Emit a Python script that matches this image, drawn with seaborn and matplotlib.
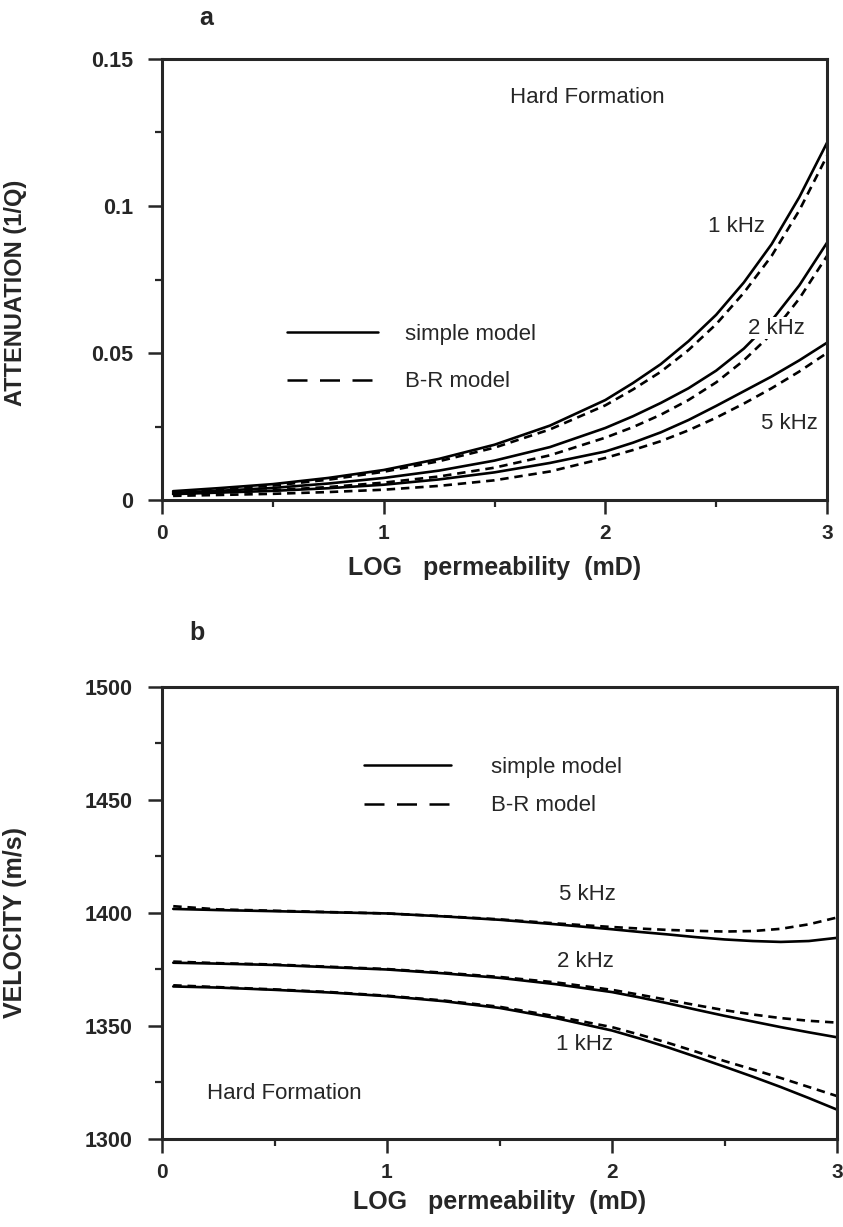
import numpy as np
import pandas as pd
import seaborn as sns
import matplotlib.pyplot as plt
from matplotlib.lines import Line2D
from matplotlib.ticker import MultipleLocator

# log permeability grid
log_perm = [0.05, 0.25, 0.5, 0.75, 1.0, 1.25, 1.5, 1.75, 2.0, 2.125, 2.25, 2.375, 2.5, 2.625, 2.75, 2.875, 3.0]
freqs = ['1 kHz', '2 kHz', '5 kHz']

# panel a: attenuation 1/Q
att_simple = {
    '1 kHz': [0.0030, 0.0040, 0.0054, 0.0075, 0.0102, 0.0140, 0.0188, 0.0253, 0.0340, 0.0398, 0.0462, 0.0540, 0.0630, 0.0740, 0.0870, 0.1030, 0.1215],
    '2 kHz': [0.0024, 0.0031, 0.0041, 0.0056, 0.0075, 0.0100, 0.0134, 0.0180, 0.0245, 0.0285, 0.0330, 0.0380, 0.0440, 0.0515, 0.0610, 0.0730, 0.0875],
    '5 kHz': [0.0020, 0.0025, 0.0031, 0.0040, 0.0052, 0.0070, 0.0094, 0.0126, 0.0165, 0.0195, 0.0230, 0.0272, 0.0320, 0.0370, 0.0420, 0.0475, 0.0535],
}
att_br = {
    '1 kHz': [0.0027, 0.0036, 0.0049, 0.0069, 0.0096, 0.0132, 0.0178, 0.0240, 0.0322, 0.0376, 0.0436, 0.0510, 0.0598, 0.0705, 0.0830, 0.0985, 0.1170],
    '2 kHz': [0.0019, 0.0025, 0.0033, 0.0044, 0.0059, 0.0080, 0.0110, 0.0152, 0.0212, 0.0248, 0.0290, 0.0340, 0.0400, 0.0475, 0.0565, 0.0685, 0.0830],
    '5 kHz': [0.0014, 0.0017, 0.0021, 0.0027, 0.0035, 0.0048, 0.0067, 0.0097, 0.0143, 0.0170, 0.0200, 0.0237, 0.0280, 0.0328, 0.0380, 0.0437, 0.0500],
}
# panel b: velocity m/s
vel_simple = {
    '1 kHz': [1367.5, 1367.0, 1366.0, 1364.8, 1363.2, 1361.0, 1358.0, 1353.5, 1348.0, 1344.4, 1340.5, 1336.3, 1332.0, 1327.6, 1323.0, 1318.1, 1313.0],
    '2 kHz': [1378.0, 1377.6, 1377.0, 1376.0, 1375.0, 1373.3, 1371.3, 1368.5, 1365.0, 1362.6, 1360.0, 1357.2, 1354.5, 1352.0, 1349.5, 1347.2, 1345.0],
    '5 kHz': [1401.8, 1401.3, 1400.8, 1400.3, 1399.8, 1398.5, 1397.0, 1395.0, 1392.8, 1391.6, 1390.5, 1389.3, 1388.3, 1387.6, 1387.2, 1387.6, 1389.0],
}
vel_br = {
    '1 kHz': [1368.0, 1367.2, 1366.2, 1365.0, 1363.4, 1361.3, 1358.5, 1354.3, 1349.5, 1346.1, 1342.5, 1338.6, 1334.5, 1330.8, 1327.0, 1323.0, 1319.0],
    '2 kHz': [1378.5, 1377.8, 1377.2, 1376.2, 1375.2, 1373.6, 1371.7, 1369.3, 1366.0, 1363.8, 1361.5, 1359.2, 1357.0, 1355.1, 1353.5, 1352.3, 1351.5],
    '5 kHz': [1403.0, 1401.6, 1401.0, 1400.4, 1399.8, 1398.6, 1397.2, 1395.4, 1393.8, 1393.1, 1392.5, 1392.1, 1391.8, 1392.0, 1393.0, 1395.0, 1398.0],
}

att_ticks = [0, 0.05, 0.1, 0.15]
att_ticklabels = ['0', '0.05', '0.1', '0.15']
vel_ticks = [1300, 1350, 1400, 1450, 1500]
x_ticks = [0, 1, 2, 3]

# where the curve names sit, (x, y)
att_freq_labels = {'1 kHz': (2.59, 0.093), '2 kHz': (2.77, 0.0585), '5 kHz': (2.83, 0.026)}
vel_freq_labels = {'5 kHz': (1.89, 1408), '2 kHz': (1.88, 1378.5), '1 kHz': (1.88, 1342)}


def long_frame(simple, br):
    rows = []
    for model, d in [('simple', simple), ('B-R', br)]:
        for f in freqs:
            for x, v in zip(log_perm, d[f]):
                rows.append({'x': x, 'value': v, 'freq': f, 'model': model})
    return pd.DataFrame(rows)


sns.set_theme(style='ticks')
plt.rcParams['font.family'] = ['Liberation Sans', 'DejaVu Sans']
plt.rcParams['axes.linewidth'] = 2.2
plt.rcParams['xtick.major.width'] = 1.8
plt.rcParams['ytick.major.width'] = 1.8
plt.rcParams['xtick.minor.width'] = 1.6
plt.rcParams['ytick.minor.width'] = 1.6

fig = plt.figure(figsize=(8.43, 12.27), dpi=100)
ax1 = fig.add_axes([162/843, 1-500/1227, 665/843, 441/1227])
ax2 = fig.add_axes([162/843, 1-1139/1227, 675/843, 452/1227])

pal = {f: 'black' for f in freqs}
dash = {'simple': '', 'B-R': (3.2, 2.2)}

for ax, df in [(ax1, long_frame(att_simple, att_br)), (ax2, long_frame(vel_simple, vel_br))]:
    sns.lineplot(data=df, x='x', y='value', hue='freq', style='model', palette=pal,
                 dashes=dash, linewidth=1.9, legend=False, ax=ax)
    ax.set_xlim(0, 3)
    ax.set_xticks(x_ticks, [str(t) for t in x_ticks], fontsize=15, fontweight='bold')
    ax.xaxis.set_minor_locator(MultipleLocator(0.5))
    ax.tick_params(which='major', direction='out', length=10)
    ax.tick_params(which='minor', direction='out', length=5)
    ax.tick_params(axis='x', which='major', pad=7)
    ax.tick_params(axis='y', which='major', pad=11)

ax1.set_ylim(0, 0.15)
ax1.set_yticks(att_ticks, att_ticklabels, fontsize=15.5, fontweight='bold')
ax1.yaxis.set_minor_locator(MultipleLocator(0.025))
ax1.set_ylabel('ATTENUATION (1/Q)', fontsize=17, fontweight='bold')
ax1.yaxis.set_label_coords(-0.203, 0.47)
ax1.set_xlabel('LOG   permeability  (mD)', fontsize=18, fontweight='bold', labelpad=10)

ax2.set_ylim(1300, 1500)
ax2.set_yticks(vel_ticks, [str(t) for t in vel_ticks], fontsize=15.5, fontweight='bold')
ax2.yaxis.set_minor_locator(MultipleLocator(25))
ax2.set_ylabel('VELOCITY (m/s)', fontsize=18, fontweight='bold')
ax2.yaxis.set_label_coords(-0.2, 0.478)
ax2.set_xlabel('LOG   permeability  (mD)', fontsize=18, fontweight='bold', labelpad=6)

for f, (x, y) in att_freq_labels.items():
    ax1.text(x, y, f, fontsize=16, ha='center', va='center', zorder=5,
             bbox=dict(facecolor='white', edgecolor='none', pad=0.5))
for f, (x, y) in vel_freq_labels.items():
    ax2.text(x, y, f, fontsize=16, ha='center', va='center')
ax1.text(1.92, 0.137, 'Hard Formation', fontsize=16, ha='center', va='center')
ax2.text(0.2, 1320, 'Hard Formation', fontsize=16, ha='left', va='center')

# legends
handles = [Line2D([], [], color='black', lw=1.8),
           Line2D([], [], color='black', lw=1.8, dashes=(8, 5))]
ax1.legend(handles, ['simple model', 'B-R model'], frameon=False, fontsize=16,
           handlelength=4.1, handletextpad=1.2, labelspacing=1.2,
           loc='center left', bbox_to_anchor=(0.158, 0.322))
ax2.legend(handles, ['simple model', 'B-R model'], frameon=False, fontsize=16,
           handlelength=3.9, handletextpad=1.8, labelspacing=0.8,
           loc='center left', bbox_to_anchor=(0.27, 0.78))

fig.text(206/843, 1-18/1227, 'a', fontsize=18, fontweight='bold', ha='center', va='center')
fig.text(197/843, 1-633/1227, 'b', fontsize=18, fontweight='bold', ha='center', va='center')

fig.savefig('out.png', dpi=100)
